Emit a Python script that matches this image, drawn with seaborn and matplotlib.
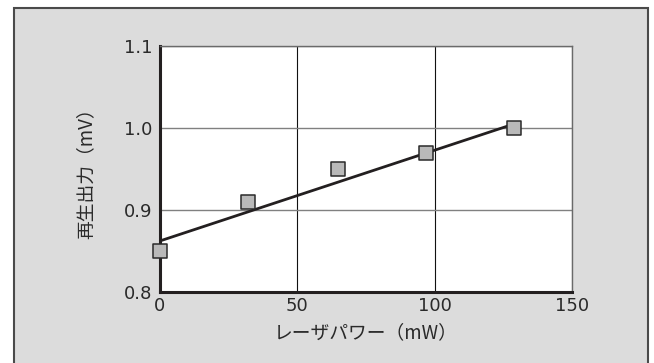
import numpy as np
import pandas as pd
import seaborn as sns
import matplotlib.pyplot as plt
from matplotlib.patches import Rectangle

# データ
laser_power = [0, 32, 65, 97, 129]          # mW
output_mv = [0.85, 0.91, 0.95, 0.97, 1.00]  # mV
fit_x = [0, 128]
fit_y = [0.862, 1.004]

x_ticks = [0, 50, 100, 150]
y_ticks = [0.8, 0.9, 1.0, 1.1]
y_ticklabels = ["0.8", "0.9", "1.0", "1.1"]

sns.set_theme(style="white")
plt.rcParams['font.family'] = ['Noto Sans CJK JP', 'DejaVu Sans']

df = pd.DataFrame({"power": laser_power, "out": output_mv})
df_fit = pd.DataFrame({"power": fit_x, "out": fit_y})

fig = plt.figure(figsize=(6.54, 3.63), dpi=100, facecolor="white")
# 灰色の背景枠
fig.patches.append(Rectangle((14 / 654, -0.05), 634 / 654, 1 - 8 / 363 + 0.05,
                             transform=fig.transFigure, facecolor="#dcdcdc",
                             edgecolor="#4a4a4a", linewidth=1.5, zorder=-5))

ax = fig.add_axes([0.244, 0.196, 0.631, 0.677])
ax.set_facecolor("white")

sns.lineplot(data=df_fit, x="power", y="out", color="#231f20", linewidth=2.0, ax=ax, zorder=3)
sns.scatterplot(data=df, x="power", y="out", marker="s", s=115, color="#b9b9b9",
                edgecolor="#2a2a2a", linewidth=1.1, ax=ax, zorder=4, clip_on=False)

ax.set_xlim(0, 150)
ax.set_ylim(0.8, 1.1)
ax.set_xticks(x_ticks)
ax.set_yticks(y_ticks)
ax.set_yticklabels(y_ticklabels)

ax.xaxis.grid(True, color="#111111", linewidth=0.8)
ax.yaxis.grid(True, color="#808080", linewidth=1.0)
ax.set_axisbelow(True)

for side in ["left", "bottom"]:
    ax.spines[side].set_linewidth(2.2)
    ax.spines[side].set_color("#231f20")
for side in ["top", "right"]:
    ax.spines[side].set_linewidth(1.0)
    ax.spines[side].set_color("#6a6a6a")
    ax.spines[side].set_visible(True)

ax.tick_params(axis="both", direction="in", length=4, width=1, colors="#2a2a2a",
               labelsize=13, pad=5)
ax.tick_params(axis="x", pad=4)
for lab in ax.get_xticklabels() + ax.get_yticklabels():
    lab.set_family("DejaVu Sans")

ax.set_xlabel("レーザパワー（mW）", fontsize=13.5, color="#2a2a2a")
ax.set_ylabel("再生出力（mV）", fontsize=13.5, color="#2a2a2a")
ax.xaxis.set_label_coords(0.5, -0.125)
ax.yaxis.set_label_coords(-0.154, 0.5)

fig.savefig("out.png", dpi=100, facecolor=fig.get_facecolor())
